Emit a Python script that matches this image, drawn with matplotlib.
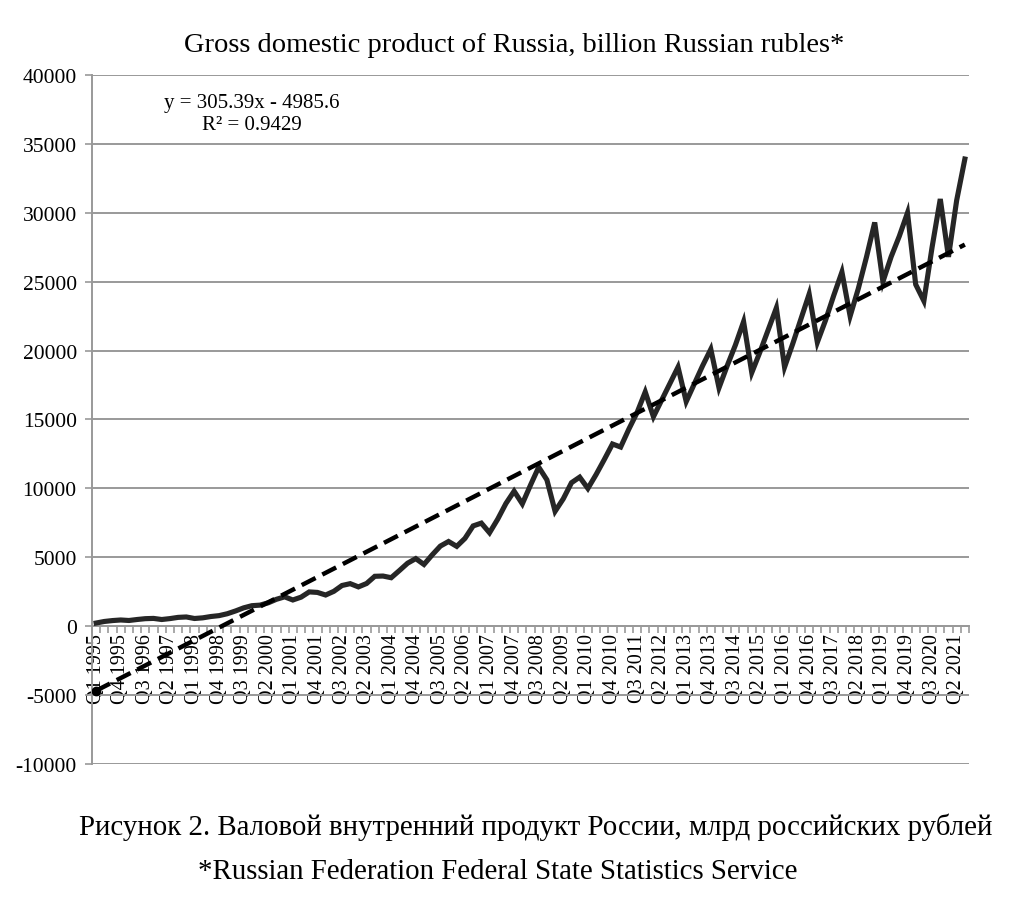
import numpy as np
import matplotlib
matplotlib.use('Agg')
import matplotlib.pyplot as plt
from matplotlib.ticker import FixedLocator, FixedFormatter

plt.rcParams['font.family'] = ['Liberation Serif', 'DejaVu Serif']

# ВВП России по кварталам, млрд руб. (Q1 1995 - Q3 2021)
years = list(range(1995, 2022))
gdp = [
    229, 342, 408, 450,          # 1995
    413, 485, 545, 564,          # 1996
    484, 550, 639, 669,          # 1997
    558, 605, 701, 766,          # 1998
    903, 1103, 1330, 1487,       # 1999
    1528, 1697, 1951, 2130,      # 2000
    1901, 2105, 2488, 2450,      # 2001
    2262, 2529, 2953, 3086,      # 2002
    2851, 3098, 3620, 3639,      # 2003
    3517, 4036, 4570, 4905,      # 2004
    4479, 5173, 5813, 6145,      # 2005
    5793, 6369, 7276, 7480,      # 2006
    6780, 7768, 8903, 9797,      # 2007
    8878, 10238, 11542, 10619,   # 2008
    8335, 9245, 10411, 10816,    # 2009
    9996, 11001, 12091, 13221,   # 2010
    13000, 14300, 15500, 17000,  # 2011
    15200, 16400, 17600, 18800,  # 2012
    16300, 17600, 18900, 20100,  # 2013
    17300, 18900, 20400, 22100,  # 2014
    18400, 19900, 21500, 23100,  # 2015
    18800, 20500, 22300, 24100,  # 2016
    20600, 22200, 24000, 25700,  # 2017
    22500, 24500, 26800, 29300,  # 2018
    25000, 26800, 28300, 30000,  # 2019
    24800, 23600, 27500, 31000,  # 2020
    26800, 30900, 33900,         # 2021
]
quarters = [f"Q{q} {y}" for y in years for q in range(1, 5)][:len(gdp)]

# линейный тренд из подписи на графике
trend_slope = 305.39
trend_intercept = -4985.6
trend_r2 = 0.9429

y_ticks = list(range(-10000, 40001, 5000))

fig = plt.figure(figsize=(10.16, 9.2), dpi=100)
ax = fig.add_axes([0.0906, 0.1685, 0.8631, 0.7489])

x = np.arange(len(gdp))
trend = trend_slope * (x + 1) + trend_intercept

ax.plot(x, gdp, color='#262626', lw=3.7, solid_joinstyle='miter', zorder=3)
ax.plot(x, trend, color='black', lw=3.2, dashes=(3.5, 1.7), zorder=4,
        marker='o', markevery=[0], markersize=6)

ax.set_xlim(-0.5, len(gdp) - 0.5)
ax.set_ylim(-10000, 40000)

# сетка и оси
ax.set_yticks(y_ticks)
ax.set_yticklabels([str(v) for v in y_ticks], fontsize=15.5)
ax.yaxis.grid(True, color='#999999', lw=1.4)
ax.set_axisbelow(True)
for s in ['top', 'right']:
    ax.spines[s].set_visible(False)
ax.spines['left'].set_color('#999999')
ax.spines['left'].set_linewidth(1.4)
ax.spines['bottom'].set_position(('data', 0))
ax.spines['bottom'].set_color('#999999')
ax.spines['bottom'].set_linewidth(1.4)
ax.tick_params(axis='y', colors='#999999', labelcolor='black', length=5, width=1.2, pad=6)

major = list(range(0, len(gdp), 3))
ax.xaxis.set_major_locator(FixedLocator(major))
ax.xaxis.set_major_formatter(FixedFormatter([quarters[i] for i in major]))
ax.xaxis.set_minor_locator(FixedLocator(np.arange(-0.5, len(gdp), 1.0)))
ax.tick_params(axis='x', which='major', length=0, pad=5, labelsize=14.5, labelrotation=90)
ax.tick_params(axis='x', which='minor', length=5, width=1.2, colors='#999999', direction='out')
for lbl in ax.get_xticklabels():
    lbl.set_verticalalignment('top')

ax.text(0.182, 0.974, f"y = {trend_slope}x - {abs(trend_intercept)}\nR² = {trend_r2}",
        transform=ax.transAxes, ha='center', va='top', fontsize=15, linespacing=1.2)

fig.text(0.506, 0.951, "Gross domestic product of Russia, billion Russian rubles*",
         ha='center', va='center', fontsize=20.5)
fig.text(0.527, 0.101, "Рисунок 2. Валовой внутренний продукт России, млрд российских рублей",
         ha='center', va='center', fontsize=20.8)
fig.text(0.49, 0.052, "*Russian Federation Federal State Statistics Service",
         ha='center', va='center', fontsize=20.8)

fig.savefig('out.png', dpi=100)
